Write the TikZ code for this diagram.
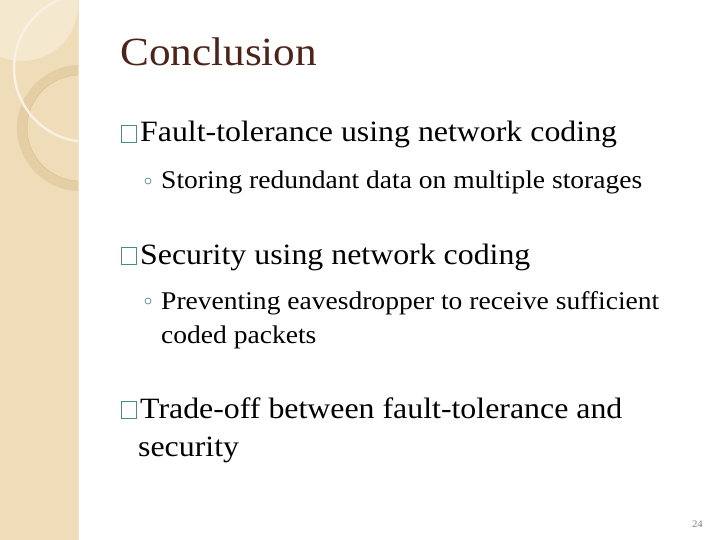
\documentclass[tikz,border=0pt]{standalone}
\usepackage{fontspec}
\setmainfont[FakeStretch=1.08]{Liberation Serif}
\definecolor{band}{HTML}{EEDDB8}
\definecolor{bandlt}{HTML}{F4E9CF}
\definecolor{ringc}{HTML}{E3CFA3}
\definecolor{titlec}{HTML}{4E2318}
\definecolor{boxc}{HTML}{4F8A8B}
\definecolor{subb}{HTML}{5E9AA0}
\begin{document}
\begin{tikzpicture}[x=1pt,y=-1pt,
  lone/.style={anchor=base west,font=\fontsize{29.5}{32}\selectfont,inner sep=0pt},
  ltwo/.style={anchor=base west,font=\fontsize{25.5}{28}\selectfont,inner sep=0pt},
  bbox/.style={draw=boxc,line width=1.4pt,minimum width=15pt,minimum height=17pt,inner sep=0pt},
  sbul/.style={draw=subb,circle,line width=0.8pt,minimum size=6pt,inner sep=0pt}]
\useasboundingbox (0,0) rectangle (720,540);
\fill[white] (0,0) rectangle (720,540);
\begin{scope}
\clip (0,0) rectangle (78,540);
\fill[band] (0,0) rectangle (78,540);
\fill[bandlt] (22,5) circle (56);
\draw[ringc,line width=10pt] (80,128) circle (58);
\draw[ringc!80!brown,line width=0.5pt] (80,128) circle (53);
\draw[white!60!band,line width=2.5pt] (88,68) circle (74);
\end{scope}
\draw[band!80!white,line width=1pt] (78,0) -- (78,540);
\node[anchor=base west,text=titlec,font=\fontsize{40}{44}\selectfont,inner sep=0pt] (t) at (120,66) {Conclusion};
\node[bbox] (b1) at (129,134) {};
\node[lone] (l1) at (140,142) {Fault-tolerance using network coding};
\node[sbul] (s1) at (148,181) {};
\node[ltwo] (m1) at (161,189) {Storing redundant data on multiple storages};
\node[bbox] (b2) at (129,256) {};
\node[lone] (l2) at (140,264) {Security using network coding};
\node[sbul] (s2) at (148,301) {};
\node[ltwo] (m2) at (161,309) {Preventing eavesdropper to receive sufficient};
\node[ltwo] (m2b) at (161,343) {coded packets};
\node[bbox] (b3) at (129,410) {};
\node[lone] (l3) at (140,418) {Trade-off between fault-tolerance and};
\node[lone] (l3b) at (138,456) {security};
\node[anchor=base east,text=gray,font=\fontsize{10}{12}\selectfont,inner sep=0pt] (pg) at (703,527) {24};
\end{tikzpicture}
\end{document}
